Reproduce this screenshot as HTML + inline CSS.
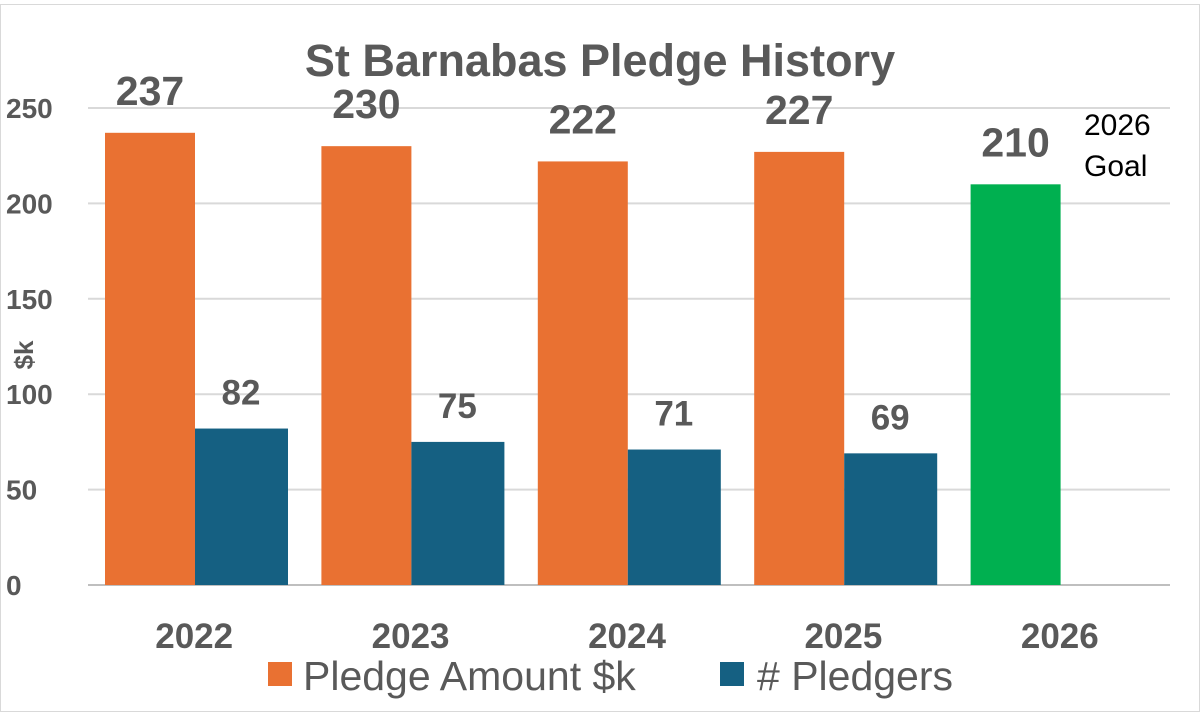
<!DOCTYPE html>
<html><head><meta charset="utf-8"><style>
html,body{margin:0;padding:0;background:#fff}
svg{display:block}
text{font-family:"Liberation Sans",Arial,sans-serif}
</style></head><body>
<svg id="c" width="1200" height="714" viewBox="0 0 1200 714">
<rect x="0.5" y="4.5" width="1199" height="707" fill="#fff" stroke="#d9d9d9"/>
<text x="600" y="76" text-anchor="middle" font-size="45" font-weight="bold" fill="#595959">St Barnabas Pledge History</text>
<g id="grid"></g>
<g id="bars"></g>
<text transform="translate(33,355) rotate(-90)" text-anchor="middle" font-size="26" font-weight="bold" fill="#595959">$k</text>
<text x="1084" y="135" font-size="30" fill="#000">2026</text>
<text x="1084" y="176" font-size="30" fill="#000">Goal</text>
<g>
<rect x="268" y="662" width="24" height="24" fill="#E97132"/>
<text x="303" y="690" font-size="41" fill="#595959">Pledge Amount $k</text>
<rect x="720" y="662" width="24" height="24" fill="#156082"/>
<text x="757" y="690" font-size="41" fill="#595959"># Pledgers</text>
</g>
</svg>
<script>
const categories=["2022","2023","2024","2025","2026"];
const pledgeAmounts=[237,230,222,227,210];
const pledgers=[82,75,71,69,null];
const yTicks=[0,50,100,150,200,250];
const NS="http://www.w3.org/2000/svg";
const x0=88,x1=1170,y0=585,pxPer=477/250;
const bw=(x1-x0)/categories.length;
const y=v=>y0-v*pxPer;
function mk(tag,attrs,parent,txt){const e=document.createElementNS(NS,tag);for(const k in attrs)e.setAttribute(k,attrs[k]);if(txt!=null)e.textContent=txt;parent.appendChild(e);return e;}
const grid=document.getElementById('grid'),bars=document.getElementById('bars');
yTicks.forEach(t=>{
 const l=mk('line',{x1:x0,x2:x1,y1:y(t),y2:y(t),stroke:t===0?'#bfbfbf':'#d9d9d9','stroke-width':2},grid);
 
 
 const tx=mk('text',{x:6,y:y(t)+10,'font-size':28,'font-weight':'bold',fill:'#595959'},grid,String(t));
 
 
});
categories.forEach((c,i)=>{
 const cx=x0+i*bw;
 const last=pledgers[i]==null;
 const ox=cx+17;
 const r=mk('rect',{x:ox,y:y(pledgeAmounts[i]),width:90,height:pledgeAmounts[i]*pxPer,fill:last?'#00B050':'#E97132'},bars);
 
 
 const lt=mk('text',{x:ox+45,y:y(pledgeAmounts[i])-28,'text-anchor':'middle','font-size':41,'font-weight':'bold',fill:'#595959'},bars,String(pledgeAmounts[i]));
 
 
 if(!last){
  const b=mk('rect',{x:ox+90,y:y(pledgers[i]),width:93,height:pledgers[i]*pxPer,fill:'#156082'},bars);
  
  
  const bt=mk('text',{x:ox+90+46,y:y(pledgers[i])-24,'text-anchor':'middle','font-size':35,'font-weight':'bold',fill:'#595959'},bars,String(pledgers[i]));
  
  
 }
 const xt=mk('text',{x:cx+bw/2-2,y:648,'text-anchor':'middle','font-size':35,'font-weight':'bold',fill:'#595959'},bars,c);
 
 
});
</script>
</body></html>
